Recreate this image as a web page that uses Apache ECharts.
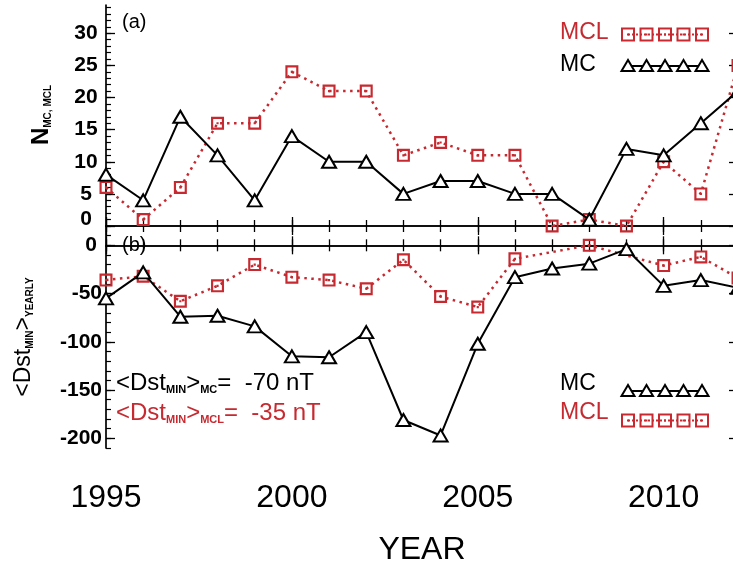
<!DOCTYPE html>
<html>
<head>
<meta charset="utf-8">
<script src="https://cdn.jsdelivr.net/npm/echarts@6/dist/echarts.min.js"></script>
<style>
  html, body { margin: 0; padding: 0; background: #fff; }
  #chart { width: 733px; height: 565px; }
</style>
</head>
<body>
<div id="chart"></div>
<script>
// ---------------- DATA ----------------
const years      = [1995,1996,1997,1998,1999,2000,2001,2002,2003,2004,2005,2006,2007,2008,2009,2010,2011,2012];
const mcCount    = [8, 4, 17, 11, 4, 14, 10, 10, 5, 7, 7, 5, 5, 1, 12, 11, 16, 21];
const mclCount   = [6, 1, 6, 16, 16, 24, 21, 21, 11, 13, 11, 11, 0, 1, 0, 10, 5, 25];
const mcDst      = [-55, -28, -74, -73, -84, -115, -116, -90, -181, -197, -102, -33, -24, -19, -4, -42, -36, -44];
const mclDst     = [-36, -32, -58, -42, -20, -33, -36, -45, -15, -53, -64, -14, null, 0, null, -21, -12, -34];
const yearLabels = [1995, 2000, 2005, 2010];
const countTicks = [0, 5, 10, 15, 20, 25, 30];
const dstTicks   = [-200, -150, -100, -50, 0];

// minor tick positions
const countMinor = []; for (let v = 1; v <= 34; v++) countMinor.push(v);
const dstMinor = []; for (let v = -210; v <= 20; v += 10) dstMinor.push(v);

const RED = '#c62a30';
const FONT = 'Liberation Sans, Arial, Helvetica, sans-serif';
const SQUARE = 'path://M0,0 H12 V12 H0 Z M2,2 V10 H10 V2 Z M5,5 H7 V7 H5 Z';

function pairs(vals) { return years.map((y, i) => [y, vals[i]]); }

const axisLineStyle = { color: '#000', width: 1.7 };

function xAxesFor(grid, showLabels) {
  const base = { type: 'value', gridIndex: grid, min: 1995, max: 2012, splitLine: { show: false } };
  return [
    Object.assign({}, base, {
      position: 'bottom',
      axisLine: { show: true, lineStyle: axisLineStyle },
      axisTick: { show: true, inside: true, length: 9, customValues: yearLabels, lineStyle: { color: '#000', width: 1.3 } },
      axisLabel: { show: showLabels, customValues: yearLabels, margin: 34, fontSize: 32, color: '#000', fontFamily: FONT,
                   formatter: v => String(v) },
      name: showLabels ? 'YEAR' : '',
      nameLocation: 'middle', nameGap: 86,
      nameTextStyle: { fontSize: 32, color: '#000', fontFamily: FONT }
    }),
    Object.assign({}, base, {
      position: 'bottom',
      axisLine: { show: false },
      axisTick: { show: true, inside: true, length: 6, customValues: years, lineStyle: { color: '#000', width: 1.3 } },
      axisLabel: { show: false }
    }),
    Object.assign({}, base, {
      position: 'top',
      axisLine: { show: true, lineStyle: axisLineStyle },
      axisTick: { show: true, inside: true, length: 9, customValues: yearLabels, lineStyle: { color: '#000', width: 1.3 } },
      axisLabel: { show: false }
    }),
    Object.assign({}, base, {
      position: 'top',
      axisLine: { show: false },
      axisTick: { show: true, inside: true, length: 6, customValues: years, lineStyle: { color: '#000', width: 1.3 } },
      axisLabel: { show: false }
    })
  ];
}

function yAxesFor(grid, min, max, major, minor, labelCfg) {
  const base = { type: 'value', gridIndex: grid, min: min, max: max, splitLine: { show: false } };
  return [
    Object.assign({}, base, {
      position: 'left',
      axisLine: { show: true, lineStyle: axisLineStyle },
      axisTick: { show: true, inside: true, length: 9, customValues: major, lineStyle: { color: '#000', width: 1.3 } },
      axisLabel: Object.assign({ show: true, customValues: major, fontSize: 21, fontWeight: 'bold', color: '#000', fontFamily: FONT }, labelCfg)
    }),
    Object.assign({}, base, {
      position: 'left',
      axisLine: { show: false },
      axisTick: { show: true, inside: true, length: 5, customValues: minor, lineStyle: { color: '#000', width: 1.2 } },
      axisLabel: { show: false }
    }),
    Object.assign({}, base, {
      position: 'right',
      axisLine: { show: true, lineStyle: axisLineStyle },
      axisTick: { show: true, inside: true, length: 9, customValues: major, lineStyle: { color: '#000', width: 1.3 } },
      axisLabel: { show: false }
    }),
    Object.assign({}, base, {
      position: 'right',
      axisLine: { show: false },
      axisTick: { show: true, inside: true, length: 5, customValues: minor, lineStyle: { color: '#000', width: 1.2 } },
      axisLabel: { show: false }
    })
  ];
}

const labelFontRich = { fontSize: 21, fontWeight: 'bold', color: '#000', fontFamily: FONT };

const xAxis = xAxesFor(0, false).concat(xAxesFor(1, true));
const yAxis = yAxesFor(0, 0, 34.4, countTicks, countMinor, {
  align: 'center', margin: 20,
  formatter: v => v === 0 ? '{z|0}' : String(v),
  rich: { z: Object.assign({ padding: [0, 0, 14, 0] }, labelFontRich) }
}).concat(yAxesFor(1, -210, 20, dstTicks, dstMinor, {
  margin: 4,
  formatter: v => v === 0 ? '{z|0}' : String(v),
  rich: { z: Object.assign({ padding: [0, 5, 0, 0] }, labelFontRich) }
}));

function mcSeries(xi, yi, data) {
  return {
    type: 'line', xAxisIndex: xi, yAxisIndex: yi, data: pairs(data),
    symbol: 'emptyTriangle', symbolSize: [14, 12], showAllSymbol: true,
    lineStyle: { color: '#000', width: 2 },
    itemStyle: { color: '#000', borderWidth: 2 },
    z: 3, animation: false, clip: true
  };
}
function mclSeries(xi, yi, data) {
  return {
    type: 'line', xAxisIndex: xi, yAxisIndex: yi, data: pairs(data), connectNulls: true,
    symbol: SQUARE, symbolSize: 13, showAllSymbol: true,
    lineStyle: { color: RED, width: 2.5, type: [2.5, 4.5] },
    itemStyle: { color: RED },
    z: 2, animation: false, clip: true
  };
}

function triangle(cx, cy) {
  return { type: 'polygon', shape: { points: [[cx, cy - 6], [cx - 6.5, cy + 5], [cx + 6.5, cy + 5]] },
           style: { fill: '#fff', stroke: '#000', lineWidth: 2 }, z: 10 };
}
function square(cx, cy, color) {
  return [
    { type: 'rect', shape: { x: cx - 6, y: cy - 6, width: 12, height: 12 },
      style: { fill: 'rgba(0,0,0,0)', stroke: color, lineWidth: 2 }, z: 10 },
    { type: 'rect', shape: { x: cx - 1, y: cy - 1, width: 2, height: 2 },
      style: { fill: color }, z: 10 }
  ];
}
const legendX = [628, 646.5, 665, 683.5, 702];
function legendRow(kind, textStr, color, ty, sy) {
  const els = [{ type: 'text', x: 560, y: ty, style: { text: textStr, fill: color, font: '23px ' + FONT, align: 'left', verticalAlign: 'middle' }, z: 10 }];
  els.push({ type: 'line', shape: { x1: 628, y1: sy, x2: 702, y2: sy },
             style: kind === 'mc' ? { stroke: '#000', lineWidth: 2 } : { stroke: color, lineWidth: 2, lineDash: [2, 2] }, z: 9 });
  legendX.forEach(x => {
    if (kind === 'mc') els.push(triangle(x, sy));
    else square(x, sy, color).forEach(e => els.push(e));
  });
  return els;
}

function dstNote(sub, value, color, y) {
  return { type: 'text', x: 116, y: y, z: 10,
    style: {
      text: '{b|<Dst}{s|MIN}{b|>}{s|' + sub + '}{b|=  ' + value + '}',
      align: 'left', verticalAlign: 'middle',
      rich: {
        b: { fontSize: 24, fontFamily: FONT, fill: color },
        s: { fontSize: 11, fontFamily: FONT, fill: color, verticalAlign: 'bottom', fontWeight: 'bold' }
      }
    } };
}

let graphics = [
  { type: 'text', x: 122, y: 22, style: { text: '(a)', font: '20px ' + FONT, fill: '#000', align: 'left', verticalAlign: 'middle' }, z: 10 },
  { type: 'text', x: 122, y: 245, style: { text: '(b)', font: '20px ' + FONT, fill: '#000', align: 'left', verticalAlign: 'middle' }, z: 10 },
  { type: 'text', x: 41, y: 115, rotation: Math.PI / 2, z: 10,
    style: { text: '{n|N}{s|MC, MCL}', align: 'center', verticalAlign: 'middle',
      rich: { n: { fontSize: 24, fontWeight: 'bold', fontFamily: FONT, fill: '#000' },
              s: { fontSize: 10, fontWeight: 'bold', fontFamily: FONT, fill: '#000', verticalAlign: 'bottom' } } } },
  { type: 'text', x: 24, y: 337, rotation: Math.PI / 2, z: 10,
    style: { text: '{n|<Dst}{s|MIN}{n|>}{s|YEARLY}', align: 'center', verticalAlign: 'middle',
      rich: { n: { fontSize: 23, fontFamily: FONT, fill: '#000' },
              s: { fontSize: 10, fontWeight: 'bold', fontFamily: FONT, fill: '#000', verticalAlign: 'bottom' } } } },
  dstNote('MC', '-70 nT', '#000', 383),
  dstNote('MCL', '-35 nT', RED, 413)
];
graphics = graphics
  .concat(legendRow('mcl', 'MCL', RED, 33, 34.5))
  .concat(legendRow('mc', 'MC', '#000', 64.5, 66))
  .concat(legendRow('mc', 'MC', '#000', 384, 391))
  .concat(legendRow('mcl', 'MCL', RED, 412.5, 420.5));

const option = {
  backgroundColor: '#fff',
  animation: false,
  textStyle: { fontFamily: FONT },
  grid: [
    { left: 106, width: 632, top: 5, height: 221, outerBoundsMode: 'none', containLabel: false },
    { left: 106, width: 632, top: 226, height: 222, outerBoundsMode: 'none', containLabel: false }
  ],
  xAxis: xAxis,
  yAxis: yAxis,
  series: [
    mclSeries(0, 0, mclCount),
    mcSeries(0, 0, mcCount),
    mclSeries(4, 4, mclDst),
    mcSeries(4, 4, mcDst)
  ],
  graphic: { elements: graphics }
};

const chart = echarts.init(document.getElementById('chart'), null, { renderer: 'canvas' });
chart.setOption(option);
</script>
</body>
</html>
